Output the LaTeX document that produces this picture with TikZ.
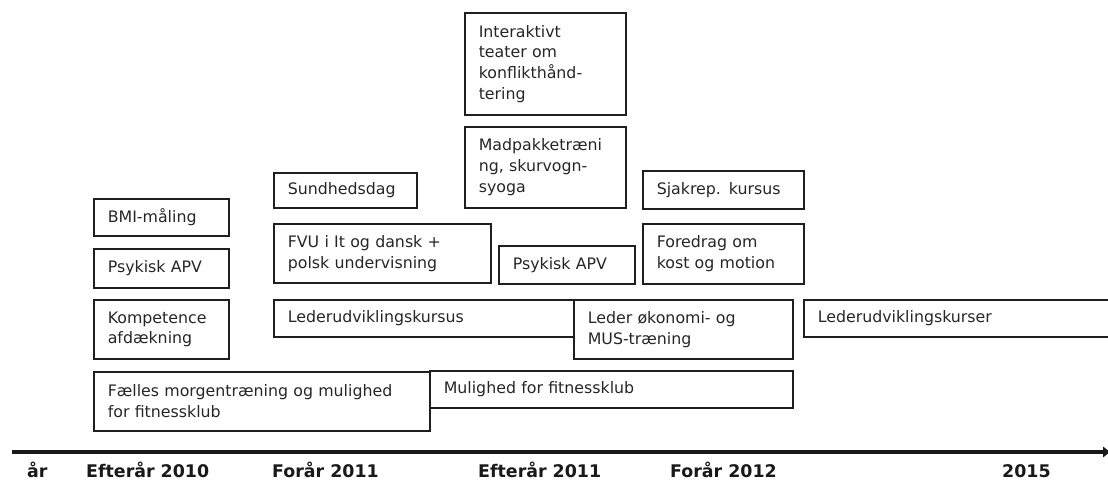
\documentclass[tikz,border=0pt]{standalone}
\usepackage{fontspec}
\setmainfont{DejaVu Sans}
\usepackage{xcolor}
\usetikzlibrary{
    arrows.meta
}

\begin{document}
\begin{tikzpicture}[
    x=1pt, y=-1pt,
    font=\fontsize{15.8}{20.7}\selectfont,
    actbox/.style={
        rectangle,
        draw=black!88,
        line width=1.6pt,
        anchor=north west,
        align=left,
        inner xsep=14pt,
        inner ysep=0pt,
        text=black!85
    },
    yearlabel/.style={
        font=\fontsize{17.4}{21}\selectfont\bfseries,
        anchor=base west,
        inner sep=0pt,
        text=black!90
    },
    timeaxis/.style={
        -{Latex[length=8pt,width=12pt]},
        line width=4pt,
        draw=black!90
    }
]
\useasboundingbox (0,0) rectangle (1108,481);

% =========================================================
% Activities, top rows
% =========================================================
\node[actbox, minimum width=161pt, minimum height=102pt, text width=133pt] (teater) at (464,12)
{Interaktivt\\teater om\\konflikthånd-\\tering};

\node[actbox, minimum width=161pt, minimum height=81pt, text width=133pt] (madpakke) at (464,126)
{Madpakketræni\\ng, skurvogn-\\syoga};

\node[actbox, minimum width=143pt, minimum height=35pt, text width=115pt] (sundhed) at (273,172)
{Sundhedsdag};

\node[actbox, minimum width=161pt, minimum height=38pt, text width=133pt] (sjakrep) at (642,170)
{Sjakrep. kursus};

% =========================================================
% Activities, middle rows
% =========================================================
\node[actbox, minimum width=135pt, minimum height=37pt, text width=107pt] (bmi) at (93,198)
{BMI-måling};

\node[actbox, minimum width=217pt, minimum height=59pt, text width=189pt] (fvu) at (273,223)
{FVU i It og dansk +\\polsk undervisning};

\node[actbox, minimum width=136pt, minimum height=38pt, text width=108pt] (apvmid) at (498,245)
{Psykisk APV};

\node[actbox, minimum width=161pt, minimum height=60pt, text width=133pt] (foredrag) at (642,223)
{Foredrag om\\kost og motion};

\node[actbox, minimum width=135pt, minimum height=39pt, text width=107pt] (apvleft) at (93,248)
{Psykisk APV};

% =========================================================
% Leader courses
% =========================================================
\node[actbox, minimum width=135pt, minimum height=59pt, text width=107pt] (kompetence) at (93,299)
{Kompetence\\afdækning};

\node[actbox, minimum width=300pt, minimum height=37pt, text width=272pt] (lederkursus) at (273,299)
{Lederudviklingskursus};

\node[actbox, minimum width=219pt, minimum height=59pt, text width=191pt] (ledoekonomi) at (573,299)
{Leder økonomi- og\\MUS-træning};

\node[actbox, minimum width=312pt, minimum height=37pt, text width=284pt] (lederkurser) at (803,299)
{Lederudviklingskurser};

% =========================================================
% Fitness
% =========================================================
\node[actbox, minimum width=336pt, minimum height=59pt, text width=308pt] (faelles) at (93,371)
{Fælles morgentræning og mulighed\\for fitnessklub};

\node[actbox, minimum width=363pt, minimum height=37pt, text width=335pt] (mulighed) at (429,370)
{Mulighed for fitnessklub};

% =========================================================
% Time axis
% =========================================================
\coordinate (axstart) at (12,452);
\coordinate (axend) at (1111,452);
\draw[timeaxis] (axstart) -- (axend);

\node[yearlabel] (aar) at (27,477) {år};
\node[yearlabel] (eft10) at (86,477) {Efterår 2010};
\node[yearlabel] (for11) at (272,477) {Forår 2011};
\node[yearlabel] (eft11) at (478,477) {Efterår 2011};
\node[yearlabel] (for12) at (670,477) {Forår 2012};
\node[yearlabel] (y2015) at (1002,477) {2015};

\end{tikzpicture}
\end{document}
